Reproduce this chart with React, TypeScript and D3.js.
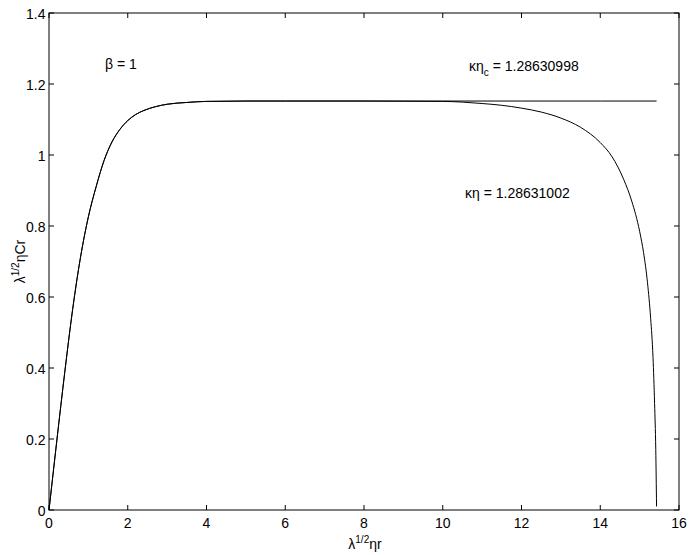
import React from "react";
import * as d3 from "d3";

const xTicks = [0, 2, 4, 6, 8, 10, 12, 14, 16];
const yTicks = [0, 0.2, 0.4, 0.6, 0.8, 1, 1.2, 1.4];
const yTickLabels = ["0", "0.2", "0.4", "0.6", "0.8", "1", "1.2", "1.4"];

// shared rising part
const riseX = [0, 0.2, 0.4, 0.6, 0.8, 1.0, 1.2, 1.4, 1.6, 1.8, 2.0, 2.2, 2.4, 2.7, 3.0, 3.5, 4.0, 5.0];
const riseY = [0, 0.197, 0.388, 0.565, 0.712, 0.826, 0.912, 0.985, 1.037, 1.072, 1.097, 1.114, 1.125, 1.136, 1.143, 1.148, 1.151, 1.152];

// critical curve: stays on the plateau
const flatX = [6, 8, 10, 12, 14, 15.43];
const flatY = [1.152, 1.152, 1.152, 1.152, 1.152, 1.152];

// supercritical curve: drops off
const dropX = [6, 8, 9, 10, 10.5, 11, 11.5, 12, 12.5, 13, 13.5, 14, 14.3, 14.6, 14.8, 15.0, 15.1, 15.2, 15.28, 15.34, 15.38, 15.41, 15.43];
const dropY = [1.152, 1.152, 1.1515, 1.151, 1.149, 1.145, 1.14, 1.132, 1.121, 1.104, 1.078, 1.035, 0.995, 0.93, 0.87, 0.785, 0.725, 0.64, 0.54, 0.43, 0.3, 0.17, 0.01];

const W = 692, H = 555;
const L = 49, R = 679, T = 13, B = 510;

export default function App() {
  const x = d3.scaleLinear().domain([0, 16]).range([L, R]);
  const y = d3.scaleLinear().domain([0, 1.4]).range([B, T]);
  const line = d3.line<[number, number]>().x(d => x(d[0])).y(d => y(d[1])).curve(d3.curveMonotoneX);
  const pts = (xs: number[], ys: number[]) => xs.map((v, i) => [v, ys[i]] as [number, number]);
  const flat = [...pts(riseX, riseY), ...pts(flatX, flatY)];
  const drop = [...pts(riseX, riseY), ...pts(dropX, dropY)];
  const font = "'Liberation Sans', Arial, Helvetica, sans-serif";
  const tl = 5;
  const fs = 14;
  return (
    <svg width={W} height={H} style={{ position: "absolute", left: 0, top: 0, background: "#fff" }} fontFamily={font}>
      <rect x={0} y={0} width={W} height={H} fill="#fff" />
      <path d={line(flat) || ""} fill="none" stroke="#000" strokeWidth={1} />
      <path d={line(drop) || ""} fill="none" stroke="#000" strokeWidth={1} />
      <rect x={L} y={T} width={R - L} height={B - T} fill="none" stroke="#000" strokeWidth={1} />
      {xTicks.map(t => (
        <g key={"x" + t}>
          <line x1={x(t)} x2={x(t)} y1={B} y2={B - tl} stroke="#000" />
          <line x1={x(t)} x2={x(t)} y1={T} y2={T + tl} stroke="#000" />
          <text x={x(t)} y={B + 18} textAnchor="middle" fontSize={fs}>{t}</text>
        </g>
      ))}
      {yTicks.map((t, i) => (
        <g key={"y" + t}>
          <line x1={L} x2={L + tl} y1={y(t)} y2={y(t)} stroke="#000" />
          <line x1={R} x2={R - tl} y1={y(t)} y2={y(t)} stroke="#000" />
          <text x={L - 3.5} y={y(t) + 5.5} textAnchor="end" fontSize={fs}>{yTickLabels[i]}</text>
        </g>
      ))}
      <text x={365} y={549} textAnchor="middle" fontSize={fs}>
        λ<tspan dy={-6} fontSize={10}>1/2</tspan><tspan dy={6}>ηr</tspan>
      </text>
      <text transform={`translate(25, ${(T + B) / 2}) rotate(-90)`} textAnchor="middle" fontSize={fs}>
        λ<tspan dy={-6} fontSize={10}>1/2</tspan><tspan dy={6}>ηCr</tspan>
      </text>
      <text x={105} y={69} fontSize={fs}>β = 1</text>
      <text x={469} y={71} fontSize={fs}>
        κη<tspan dy={5} fontSize={10}>c</tspan><tspan dy={-5}> = 1.28630998</tspan>
      </text>
      <text x={465} y={198} fontSize={fs}>κη = 1.28631002</text>
    </svg>
  );
}
